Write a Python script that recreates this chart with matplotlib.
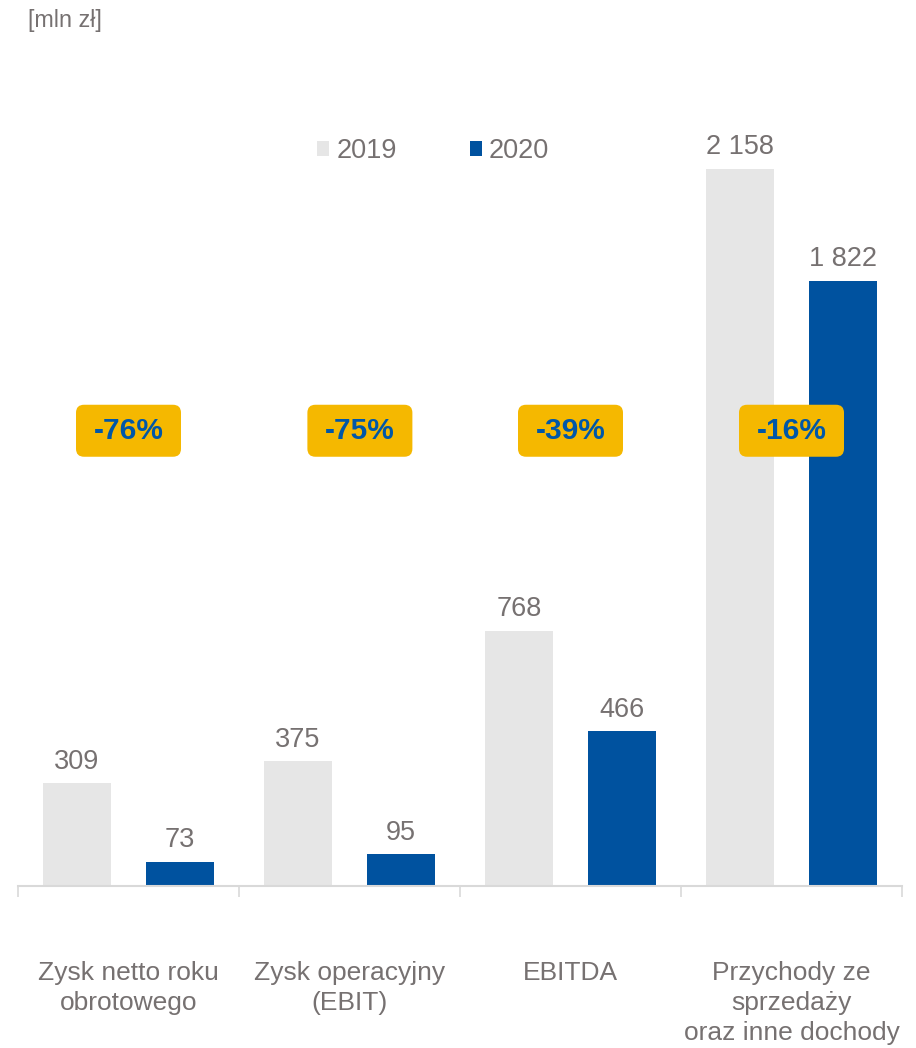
import matplotlib
matplotlib.use("Agg")
import matplotlib.pyplot as plt
from matplotlib.patches import FancyBboxPatch
import numpy as np

categories = ["Zysk netto roku\nobrotowego", "Zysk operacyjny\n(EBIT)", "EBITDA",
              "Przychody ze\nsprzedaży\noraz inne dochody"]
series_names = ["2019", "2020"]
values_2019 = [309, 375, 768, 2158]
values_2020 = [73, 95, 466, 1822]
changes = ["-76%", "-75%", "-39%", "-16%"]
badge_x = [0.0, 1.047, 2.0, 3.0]

plt.rcParams['font.family'] = ['Liberation Sans', 'DejaVu Sans']

GRAY = "#E6E6E6"
BLUE = "#00529F"
TXT = "#767171"
YEL = "#F5B800"
BTXT = "#0057A8"

W, H = 916, 1048
PX_PER_UNIT_Y = 0.3323
PX_PER_UNIT_X = 221.0
fig = plt.figure(figsize=(W / 100, H / 100), dpi=100)
ax = fig.add_axes([18 / W, 1 - 886 / H, (902 - 18) / W, (886 - 100) / H])

x = np.arange(len(categories))
off, bw = 0.233, 0.31
b1 = ax.bar(x - off, values_2019, bw, color=GRAY, label=series_names[0])
b2 = ax.bar(x + off, values_2020, bw, color=BLUE, label=series_names[1])

def fmt(v):
    return f"{v:,}".replace(",", " ")

for bars, vals in ((b1, values_2019), (b2, values_2020)):
    for r, v in zip(bars, vals):
        ax.annotate(fmt(v), (r.get_x() + r.get_width() / 2, v),
                    xytext=(0, 15.5), textcoords="offset points",
                    ha="center", va="center", fontsize=19.5, color=TXT)

badge_y = 1370
bw_d = 105 / PX_PER_UNIT_X
bh_d = 52 / PX_PER_UNIT_Y
for bx, c in zip(badge_x, changes):
    p = FancyBboxPatch((bx - bw_d / 2, badge_y - bh_d / 2), bw_d, bh_d,
                       boxstyle="round,pad=0,rounding_size=%f" % (8 / PX_PER_UNIT_X),
                       mutation_aspect=PX_PER_UNIT_X / PX_PER_UNIT_Y,
                       facecolor=YEL, edgecolor="none", zorder=3)
    ax.add_patch(p)
    ax.text(bx, badge_y, c, ha="center", va="center", fontsize=21.5,
            fontweight="bold", color=BTXT, zorder=4)

ax.set_xlim(-0.5, 3.5)
ax.set_ylim(0, (886 - 100) / PX_PER_UNIT_Y)
for s in ("top", "right", "left"):
    ax.spines[s].set_visible(False)
ax.spines["bottom"].set_color("#D9D9D9")
ax.spines["bottom"].set_linewidth(1.5)
ax.set_yticks([])
ax.set_xticks(x)
ax.set_xticklabels(categories, fontsize=19, color=TXT, linespacing=1.32, va="top")
ax.tick_params(axis="x", which="major", length=0, pad=54)
ax.set_xticks(np.arange(-0.5, 3.6, 1.0), minor=True)
ax.tick_params(axis="x", which="minor", length=8, width=1.2, color="#D9D9D9")

leg = fig.legend(handles=[b1, b2], labels=series_names, loc="center",
                 bbox_to_anchor=(433 / W, 1 - 151 / H), ncol=2, frameon=False,
                 fontsize=19.5, handlelength=0.45, handleheight=0.45,
                 handletextpad=0.25, columnspacing=2.7, borderpad=0)
for t in leg.get_texts():
    t.set_color(TXT)

fig.text(28 / W, 1 - 21 / H, "[mln zł]", fontsize=16.8, color=TXT,
         ha="left", va="center")

fig.savefig("out.png", dpi=100)
